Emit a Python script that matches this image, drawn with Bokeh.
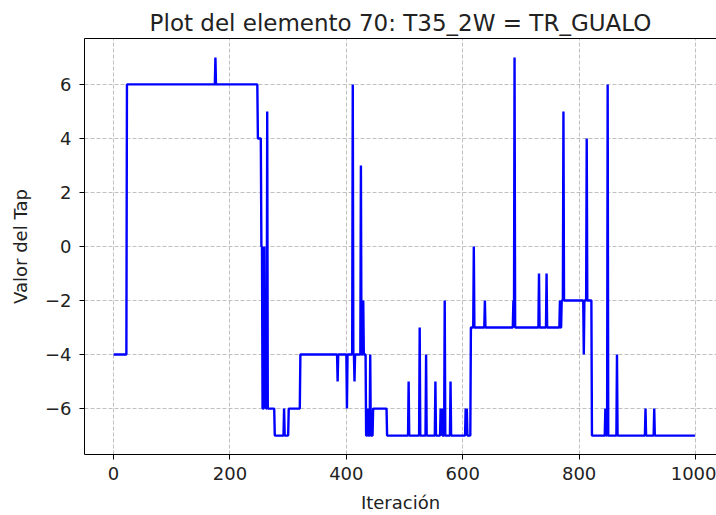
from bokeh.plotting import figure
from bokeh.models import Range1d, FixedTicker, LinearAxis
from bokeh.embed import file_html
from bokeh.resources import INLINE

# ---- data ----
n_iter = 1000
run_starts = [0, 23, 248, 254, 256, 277, 301, 321, 434, 446, 470, 614, 770, 822]
run_values = [-4, 6, 4, 0, -6, -7, -6, -4, -7, -6, -7, -3, -2, -7]
spike_iters = [175, 259, 261, 264, 293, 385, 401, 411, 414, 425, 429, 437, 441,
               507, 526, 537, 553, 562, 564, 569, 579, 605, 607,
               619, 638, 687, 689, 731, 744, 767, 773, 808, 813,
               845, 849, 865, 914, 929]
spike_values = [7, 0, -2, 5, -6, -5, -6, 6, -5, 3, -2, -6, -4,
                -5, -3, -4, -5, -6, -6, -2, -5, -6, -6,
                0, -2, -2, 7, -1, -1, -2, 5, -4, 4,
                -6, 6, -4, -6, -6]
x_ticks = [0, 200, 400, 600, 800, 1000]
y_ticks = [-6, -4, -2, 0, 2, 4, 6]
title_text = "Plot del elemento 70: T35_2W = TR_GUALO"
x_label = "Iteración"
y_label = "Valor del Tap"

# ---- build series from runs and spikes ----
xs = list(range(n_iter))
ys = []
for i in xs:
    v = run_values[0]
    for s, val in zip(run_starts, run_values):
        if i >= s:
            v = val
    ys.append(v)
for i, val in zip(spike_iters, spike_values):
    ys[i] = val

FONT = "DejaVu Sans"

p = figure(width=716, height=515, output_backend="svg", toolbar_location=None,
           x_range=Range1d(-49.95, 1036), y_range=Range1d(-7.7, 7.7),
           min_border_left=84, min_border_top=38, min_border_bottom=61,
           min_border_right=0)
p.outline_line_color = None
p.background_fill_color = "white"
p.border_fill_color = "white"

p.line(xs, ys, line_color="#0000ff", line_width=2.4)

p.title.text = title_text
p.title.text_font = FONT
p.title.text_font_size = "23px"
p.title.text_font_style = "normal"
p.title.text_color = "#222222"
p.title.align = "center"
p.title.offset = 4
p.title.standoff = 6

for ax in (p.xaxis[0], p.yaxis[0]):
    ax.axis_line_color = "black"
    ax.axis_line_width = 1
    ax.major_tick_line_color = "black"
    ax.major_tick_out = 5
    ax.major_tick_in = 0
    ax.minor_tick_line_color = None
    ax.major_label_text_font = FONT
    ax.major_label_text_font_size = "18px"
    ax.major_label_text_color = "#222222"
    ax.axis_label_text_font = FONT
    ax.axis_label_text_font_size = "18px"
    ax.axis_label_text_font_style = "normal"
    ax.axis_label_text_color = "#222222"

p.xaxis[0].ticker = FixedTicker(ticks=x_ticks)
p.yaxis[0].ticker = FixedTicker(ticks=y_ticks)
p.yaxis[0].major_label_overrides = {t: (("\u2212" + str(-t)) if t < 0 else str(t)) for t in y_ticks}
p.xaxis[0].axis_label = x_label
p.yaxis[0].axis_label = y_label
p.xaxis[0].major_label_standoff = 7
p.xaxis[0].axis_label_standoff = 9
p.yaxis[0].major_label_standoff = 8
p.yaxis[0].axis_label_standoff = 11

top_axis = LinearAxis(ticker=FixedTicker(ticks=[]), axis_line_color="black",
                      axis_line_width=1, major_tick_line_color=None,
                      minor_tick_line_color=None, major_label_text_font_size="0px",
                      major_label_standoff=0)
p.add_layout(top_axis, "above")

p.xgrid.ticker = FixedTicker(ticks=x_ticks)
p.ygrid.ticker = FixedTicker(ticks=y_ticks)
for g in (p.xgrid[0], p.ygrid[0]):
    g.grid_line_color = "#b0b0b0"
    g.grid_line_dash = "4 2"
    g.grid_line_width = 1
    g.grid_line_alpha = 0.8

open("out.html", "w").write(file_html(p, INLINE))
